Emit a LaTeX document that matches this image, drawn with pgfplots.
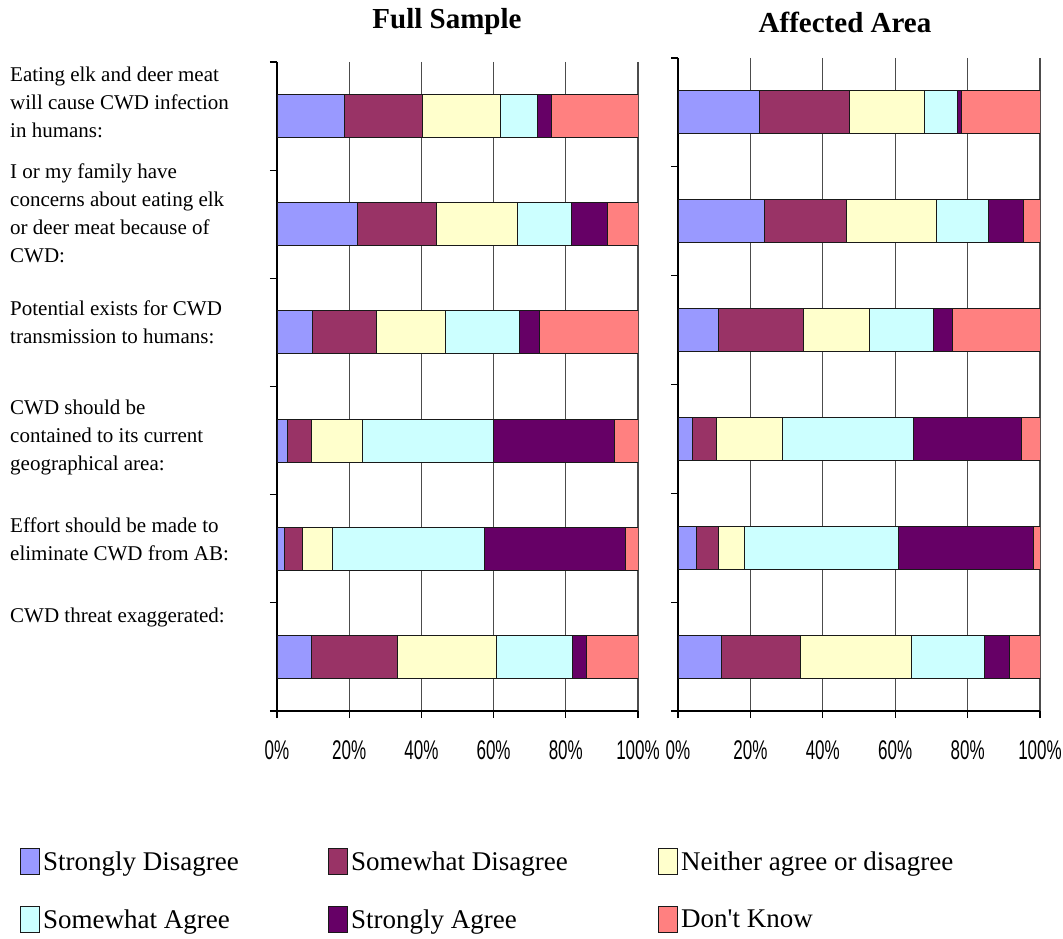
\documentclass[border=0pt]{standalone}
\usepackage{fontspec}
\setmainfont{Liberation Serif}
\newfontfamily\tickfont{Liberation Sans}
\usepackage{graphicx}
\usepackage{pgfplots}
\usepackage{pgfplotstable}
\pgfplotsset{compat=1.18}

\definecolor{cSD}{HTML}{9999FF}
\definecolor{cSwD}{HTML}{993366}
\definecolor{cN}{HTML}{FFFFCC}
\definecolor{cSA}{HTML}{CCFFFF}
\definecolor{cStA}{HTML}{660066}
\definecolor{cDK}{HTML}{FF8080}

\pgfplotstableread{
y   SD   SwD  N    SA   StA  DK
0.5 18.8 21.5 21.6 10.3 3.9  23.9
1.5 22.3 21.9 22.4 14.9 10.0 8.5
2.5 9.9  17.7 19.1 20.5 5.6  27.2
3.5 3.0  6.6  14.2 36.2 33.5 6.5
4.5 2.1  5.0  8.4  42.1 38.8 3.6
5.5 9.6  23.9 27.2 21.1 4.0  14.2
}\fulltab

\pgfplotstableread{
y   SD   SwD  N    SA   StA  DK
0.5 22.6 24.9 20.7 9.0  1.0  21.8
1.5 23.9 22.6 24.8 14.6 9.6  4.5
2.5 11.2 23.4 18.4 17.7 5.2  24.1
3.5 4.1  6.5  18.3 36.2 29.8 5.1
4.5 5.0  6.2  7.1  42.7 37.2 1.8
5.5 12.1 21.7 30.6 20.3 7.0  8.3
}\affectedtab

\newcommand\TL[1]{\scalebox{0.63}[1]{\tickfont\fontsize{27}{27}\selectfont #1}}

\pgfplotsset{
  panel/.style={
    scale only axis,
    xbar stacked,
    bar width=43pt,
    xmin=0, xmax=100, ymin=0, ymax=6,
    y dir=reverse,
    axis x line*=bottom, axis y line*=left,
    axis line style={-, black, line width=1.2pt},
    xtick={0,20,40,60,80,100},
    xticklabels={\TL{0\%},\TL{20\%},\TL{40\%},\TL{60\%},\TL{80\%},\TL{100\%}},
    xticklabel style={yshift=-19pt},
    ytick={0,1,2,3,4,5,6},
    yticklabels={},
    tick align=outside,
    major tick length=7pt,
    tick style={black, line width=1.2pt},
    xmajorgrids,
    major grid style={black!70, line width=1.1pt},
    every axis plot/.append style={draw=black!90, line width=1pt},
  }
}

\begin{document}
\begin{tikzpicture}
\path[use as bounding box] (0,0) rectangle (1063pt,939pt);

% titles
\node[font=\bfseries\fontsize{29}{29}\selectfont] at (447pt,917pt) {Full Sample};
\node[font=\bfseries\fontsize{29}{29}\selectfont] at (845pt,917pt) {Affected Area};

% category labels
\begin{scope}[every node/.style={anchor=west, align=left, inner sep=0pt, font=\fontsize{21}{28}\selectfont}]
\node at (10pt,837pt) {Eating elk and deer meat\\will cause CWD infection\\in humans:};
\node at (10pt,726pt) {I or my family have\\concerns about eating elk\\or deer meat because of\\CWD:};
\node at (10pt,617pt) {Potential exists for CWD\\transmission to humans:};
\node at (10pt,502pt) {CWD should be\\contained to its current\\geographical area:};
\node at (10pt,400pt) {Effort should be made to\\eliminate CWD from AB:};
\node at (10pt,322pt) {CWD threat exaggerated:};
\end{scope}

\begin{axis}[panel,
  at={(277pt,228pt)}, anchor=south west,
  width=361pt, height=649pt,
  legend image code/.code={\draw[#1, line width=1pt] (0pt,-13pt) rectangle (19pt,13pt);},
  legend columns=3,
  legend cell align=left,
  legend style={at={(0,0)}, anchor=north west, xshift=-257pt, yshift=-137pt,
    draw=none, fill=none, inner sep=0pt, column sep=0pt, row sep=31pt,
    font=\fontsize{27}{27}\selectfont,
    nodes={inner xsep=3pt, inner ysep=0pt}},
]
\addplot[fill=cSD]  table[x=SD,  y=y]{\fulltab};
\addplot[fill=cSwD] table[x=SwD, y=y]{\fulltab};
\addplot[fill=cN]   table[x=N,   y=y]{\fulltab};
\addplot[fill=cSA]  table[x=SA,  y=y]{\fulltab};
\addplot[fill=cStA] table[x=StA, y=y]{\fulltab};
\addplot[fill=cDK]  table[x=DK,  y=y]{\fulltab};
\addlegendentry{\makebox[282pt][l]{Strongly Disagree}}
\addlegendentry{\makebox[304pt][l]{Somewhat Disagree}}
\addlegendentry{Neither agree or disagree}
\addlegendentry{\makebox[282pt][l]{Somewhat Agree}}
\addlegendentry{\makebox[304pt][l]{Strongly Agree}}
\addlegendentry{Don\textquotesingle t Know}
\end{axis}

\begin{axis}[panel,
  at={(678pt,228pt)}, anchor=south west,
  width=362pt, height=653pt,
]
\addplot[fill=cSD]  table[x=SD,  y=y]{\affectedtab};
\addplot[fill=cSwD] table[x=SwD, y=y]{\affectedtab};
\addplot[fill=cN]   table[x=N,   y=y]{\affectedtab};
\addplot[fill=cSA]  table[x=SA,  y=y]{\affectedtab};
\addplot[fill=cStA] table[x=StA, y=y]{\affectedtab};
\addplot[fill=cDK]  table[x=DK,  y=y]{\affectedtab};
\end{axis}
\end{tikzpicture}
\end{document}
